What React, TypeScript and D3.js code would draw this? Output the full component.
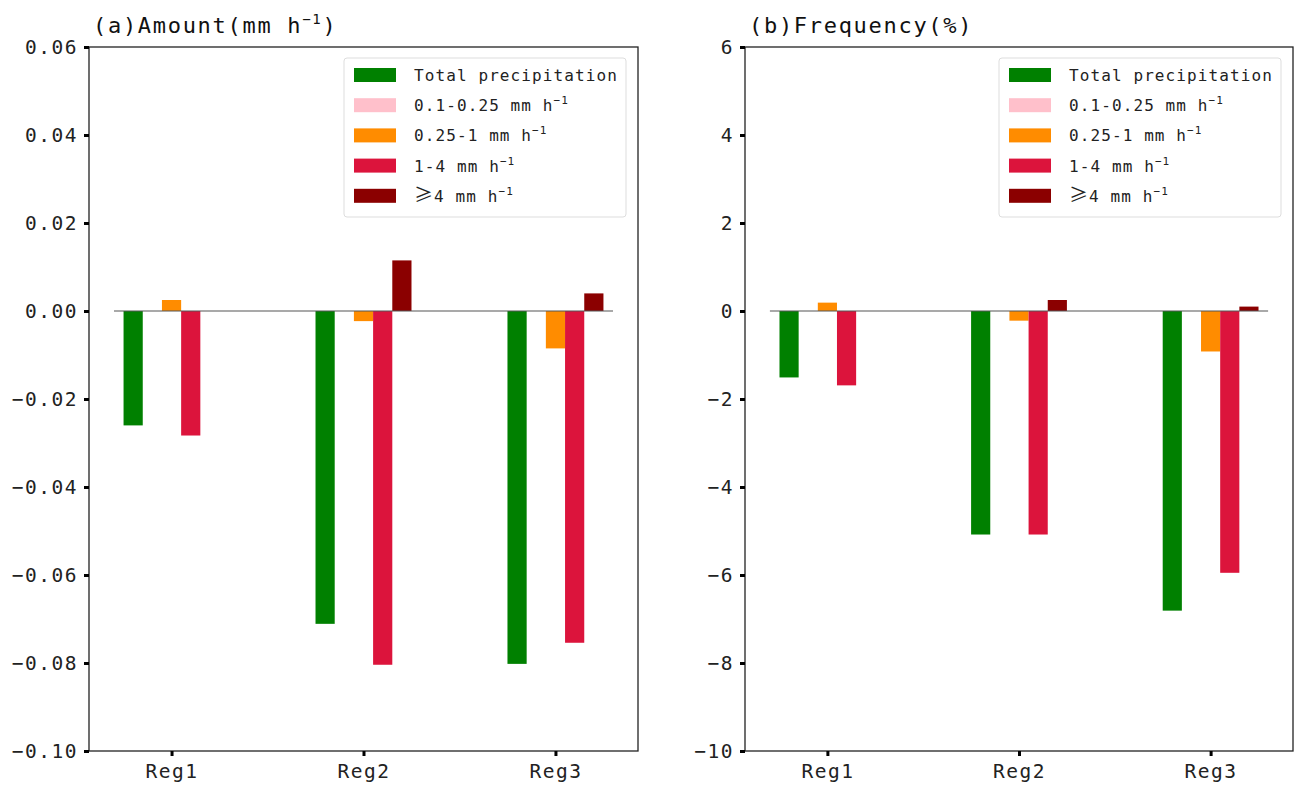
import React, { useEffect, useRef } from "react";
import * as d3 from "d3";

// regions on the x axis
const regions = ["Reg1", "Reg2", "Reg3"];

// legend / series
const seriesNames = ["Total precipitation", "0.1-0.25 mm h", "0.25-1 mm h", "1-4 mm h", "≥4 mm h"];
const seriesSup = ["", "−1", "−1", "−1", "−1"];
const seriesColors = ["green", "pink", "darkorange", "crimson", "darkred"];

// (a) amount, mm h-1
const amountTotal = [-0.026, -0.0711, -0.0802];
const amountLight = [0, 0, 0];
const amountModerate = [0.0025, -0.0023, -0.0085];
const amountHeavy = [-0.0283, -0.0804, -0.0754];
const amountExtreme = [0, 0.0115, 0.004];

// (b) frequency, %
const freqTotal = [-1.51, -5.08, -6.81];
const freqLight = [0, 0, 0];
const freqModerate = [0.19, -0.22, -0.92];
const freqHeavy = [-1.69, -5.08, -5.95];
const freqExtreme = [0, 0.25, 0.1];

const amountTicks = [0.06, 0.04, 0.02, 0, -0.02, -0.04, -0.06, -0.08, -0.1];
const freqTicks = [6, 4, 2, 0, -2, -4, -6, -8, -10];

const FONT = "'DejaVu Sans Mono', 'Liberation Mono', monospace";
const top = 47;
const bottom = 751;

function Panel({ x0, x1, title, titleSup, titleEnd, domain, ticks, fmt, series }) {
  const ref = useRef(null);

  useEffect(() => {
    const g = d3.select(ref.current);
    g.selectAll("*").remove();

    const xscale = d3.scaleLinear().domain([-0.43, 2.43]).range([x0, x1]);
    const yscale = d3.scaleLinear().domain(domain).range([bottom, top]);
    const bw = 0.1;

    // bars
    series.forEach((vals, si) => {
      g.append("g")
        .selectAll("rect")
        .data(vals)
        .join("rect")
        .attr("x", (d, i) => xscale(i + (si - 2) * bw - bw / 2))
        .attr("width", xscale(bw) - xscale(0))
        .attr("y", (d) => yscale(Math.max(0, d)))
        .attr("height", (d) => Math.abs(yscale(0) - yscale(d)))
        .attr("fill", seriesColors[si]);
    });

    // zero line
    g.append("line")
      .attr("x1", xscale(-0.3))
      .attr("x2", xscale(2.3))
      .attr("y1", yscale(0))
      .attr("y2", yscale(0))
      .attr("stroke", "#555")
      .attr("stroke-width", 1.2);

    // frame
    g.append("rect")
      .attr("x", x0)
      .attr("y", top)
      .attr("width", x1 - x0)
      .attr("height", bottom - top)
      .attr("fill", "none")
      .attr("stroke", "#222")
      .attr("stroke-width", 1.3);

    // y axis
    const yaxis = d3.axisLeft(yscale).tickValues(ticks).tickSize(5).tickPadding(6).tickFormat(fmt);
    const gy = g.append("g").attr("transform", `translate(${x0},0)`).call(yaxis);
    gy.select(".domain").remove();
    gy.selectAll(".tick line").attr("stroke", "#000").attr("stroke-width", 3);
    gy.selectAll(".tick text")
      .attr("font-family", FONT)
      .attr("font-size", 19.5)
      .attr("letter-spacing", 1.5)
      .attr("fill", "#222");

    // x axis
    const xaxis = d3.axisBottom(xscale).tickValues([0, 1, 2]).tickSize(5).tickPadding(8).tickFormat((d) => regions[d]);
    const gx = g.append("g").attr("transform", `translate(0,${bottom})`).call(xaxis);
    gx.select(".domain").remove();
    gx.selectAll(".tick line").attr("stroke", "#000").attr("stroke-width", 3);
    gx.selectAll(".tick text")
      .attr("font-family", FONT)
      .attr("font-size", 19.5)
      .attr("letter-spacing", 1.5)
      .attr("fill", "#222");

    // title
    const t = g.append("text")
      .attr("x", x0 + 4)
      .attr("y", 33)
      .attr("font-family", FONT)
      .attr("font-size", 22)
      .attr("letter-spacing", 1.7)
      .attr("fill", "#111")
      .text(title);
    if (titleSup) {
      t.append("tspan").attr("dy", -9).attr("font-size", 14).text(titleSup);
      t.append("tspan").attr("dy", 9).text(titleEnd);
    }

    // legend
    const lw = 282;
    const lx = x1 - 12 - lw;
    const ly = 58;
    const leg = g.append("g");
    leg.append("rect")
      .attr("x", lx)
      .attr("y", ly)
      .attr("width", lw)
      .attr("height", 159)
      .attr("rx", 3)
      .attr("fill", "white")
      .attr("fill-opacity", 0.85)
      .attr("stroke", "#ddd");
    seriesNames.forEach((name, i) => {
      const cy = ly + 17 + i * 30.2;
      leg.append("rect")
        .attr("x", lx + 10)
        .attr("y", cy - 7)
        .attr("width", 42)
        .attr("height", 14)
        .attr("fill", seriesColors[i]);
      const txt = leg.append("text")
        .attr("x", lx + 70)
        .attr("y", cy + 6)
        .attr("font-family", FONT)
        .attr("font-size", 16)
        .attr("letter-spacing", 1.1)
        .attr("fill", "#222");
      if (name.startsWith("≥")) {
        txt.append("tspan").attr("font-family", "'Noto Sans CJK SC', sans-serif").attr("font-size", 19).text("≥");
        txt.append("tspan").text(name.slice(1));
      } else {
        txt.append("tspan").text(name);
      }
      if (seriesSup[i]) {
        txt.append("tspan").attr("dy", -7).attr("font-size", 11).text(seriesSup[i]);
      }
    });
  }, []);

  return <g ref={ref} />;
}

export default function App() {
  return (
    <svg
      width={1296}
      height={788}
      style={{ position: "absolute", left: 0, top: 0, background: "white" }}
    >
      <Panel
        x0={89}
        x1={638}
        title="(a)Amount(mm h"
        titleSup="−1"
        titleEnd=")"
        domain={[-0.1, 0.06]}
        ticks={amountTicks}
        fmt={(d) => d3.format(".2f")(d).replace("-", "−")}
        series={[amountTotal, amountLight, amountModerate, amountHeavy, amountExtreme]}
      />
      <Panel
        x0={745}
        x1={1293}
        title="(b)Frequency(%)"
        domain={[-10, 6]}
        ticks={freqTicks}
        fmt={(d) => String(d).replace("-", "−")}
        series={[freqTotal, freqLight, freqModerate, freqHeavy, freqExtreme]}
      />
    </svg>
  );
}
